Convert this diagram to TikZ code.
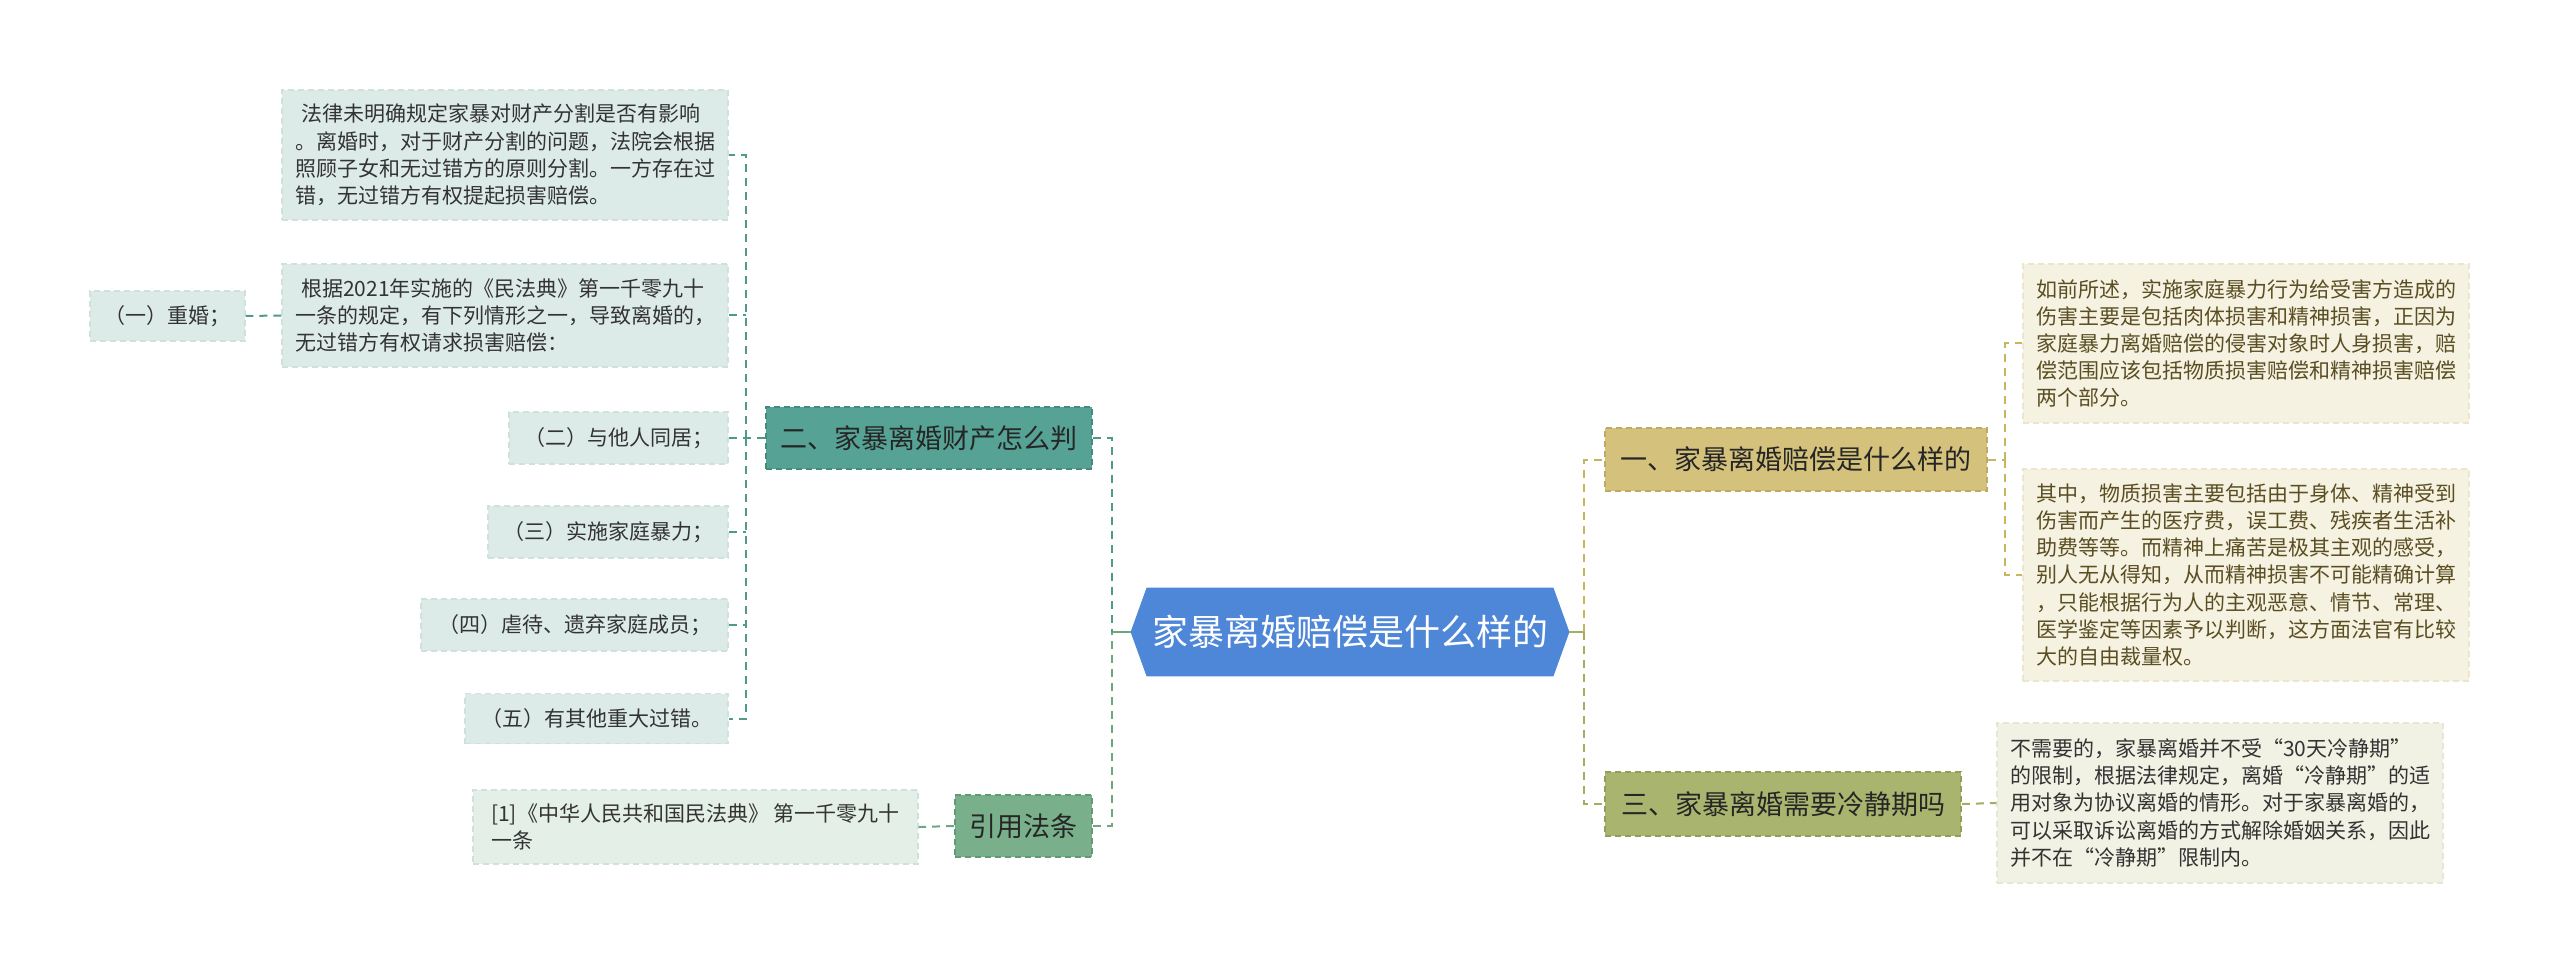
\documentclass[tikz,border=0pt]{standalone}
\usepackage{fontspec}
\setmainfont{Noto Sans CJK SC}
\usetikzlibrary{calc,backgrounds}
\definecolor{cblue}{HTML}{4E86D8}
\definecolor{tealF}{HTML}{56A395}
\definecolor{tealB}{HTML}{438C7D}
\definecolor{greenF}{HTML}{79B08B}
\definecolor{greenB}{HTML}{629A75}
\definecolor{leafF}{HTML}{DDEBE8}
\definecolor{leafB}{HTML}{CFE1DD}
\definecolor{citeF}{HTML}{E3EFE7}
\definecolor{goldF}{HTML}{D4C17B}
\definecolor{goldB}{HTML}{BEAA62}
\definecolor{oliveF}{HTML}{A9B46E}
\definecolor{oliveB}{HTML}{939E5A}
\definecolor{creamF}{HTML}{F6F2E2}
\definecolor{creamB}{HTML}{ECE5CD}
\definecolor{creamtwoF}{HTML}{F1F1E4}
\definecolor{creamtwoB}{HTML}{E6E6D4}
\definecolor{lineT}{HTML}{4F9A8A}
\definecolor{lineG}{HTML}{6BA77F}
\definecolor{lineGold}{HTML}{C8B65E}
\definecolor{lineOl}{HTML}{A3AE60}
\definecolor{txtD}{HTML}{333333}
\definecolor{txtR}{HTML}{5A4E22}
\tikzset{
  boxbase/.style={inner sep=0pt, align=left, line width=0.7pt, dash pattern=on 3pt off 2pt},
  leafL/.style={boxbase, fill=leafF, draw=leafB, text=txtD, font=\fontsize{10.5}{13.7}\selectfont},
  citebox/.style={leafL, fill=citeF},
  leafR/.style={boxbase, fill=creamF, draw=creamB, text=txtR, font=\fontsize{10.5}{13.6}\selectfont},
  leafRR/.style={boxbase, fill=creamtwoF, draw=creamtwoB, text=txtD, font=\fontsize{10.5}{13.6}\selectfont},
  branch/.style={boxbase, line width=0.9pt, text=black!85, font=\fontsize{13.5}{16}\selectfont},
  connT/.style={draw=lineT, line width=1pt, dash pattern=on 4pt off 3pt},
  connG/.style={draw=lineG, line width=1pt, dash pattern=on 4pt off 3pt},
  connGold/.style={draw=lineGold, line width=1pt, dash pattern=on 4pt off 3pt},
  connOl/.style={draw=lineOl, line width=1pt, dash pattern=on 4pt off 3pt},
}
\begin{document}
\begin{tikzpicture}[x=0.5pt,y=-0.5pt]
\useasboundingbox (0,0) rectangle (2560,973);
% center
\node[inner sep=0pt, minimum width=219pt, minimum height=44pt, text=white, font=\fontsize{18}{20}\selectfont] (center) at (1350,632) {家暴离婚赔偿是什么样的};
\begin{scope}[on background layer]
\fill[cblue] (center.west) -- ([xshift=8pt]center.north west) -- ([xshift=-8pt]center.north east) -- (center.east) -- ([xshift=-8pt]center.south east) -- ([xshift=8pt]center.south west) -- cycle;
\end{scope}
% left branches
\node[branch, fill=tealF, draw=tealB, minimum width=163pt, minimum height=31pt] (b2) at (929,438) {二、家暴离婚财产怎么判};
\node[branch, fill=greenF, draw=greenB, minimum width=68.5pt, minimum height=31pt] (yin) at (1023.5,826) {引用法条};
% left leaves
\node[leafL, minimum width=223pt, minimum height=65pt] (leafA) at (505,155) {\hspace*{0.3em}法律未明确规定家暴对财产分割是否有影响\\。离婚时，对于财产分割的问题，法院会根据\\照顾子女和无过错方的原则分割。一方存在过\\错，无过错方有权提起损害赔偿。};
\node[leafL, minimum width=223pt, minimum height=51.5pt] (leafB) at (505,315.5) {\hspace*{0.3em}根据2021年实施的《民法典》第一千零九十\\一条的规定，有下列情形之一，导致离婚的，\\无过错方有权请求损害赔偿：};
\node[leafL, minimum width=77.5pt, minimum height=25pt] (l1) at (167.5,316) {（一）重婚；};
\node[leafL, minimum width=109.5pt, minimum height=26pt] (l2) at (618.5,438) {（二）与他人同居；};
\node[leafL, minimum width=120pt, minimum height=26pt] (l3) at (608,532) {（三）实施家庭暴力；};
\node[leafL, minimum width=153.5pt, minimum height=26pt] (l4) at (574.5,625) {（四）虐待、遗弃家庭成员；};
\node[leafL, minimum width=131.5pt, minimum height=25pt] (l5) at (596.5,718.5) {（五）有其他重大过错。};
\node[citebox, minimum width=222.5pt, minimum height=37pt] (cite) at (695.5,827) {[1]《中华人民共和国民法典》 第一千零九十\\一条};
% right branches
\node[branch, fill=goldF, draw=goldB, minimum width=191pt, minimum height=31.5pt] (b1) at (1796,459.5) {一、家暴离婚赔偿是什么样的};
\node[branch, fill=oliveF, draw=oliveB, minimum width=178pt, minimum height=32pt] (b3) at (1783,804) {三、家暴离婚需要冷静期吗};
% right leaves
\node[leafR, minimum width=223pt, minimum height=79.5pt] (r1) at (2246,343.5) {如前所述，实施家庭暴力行为给受害方造成的\\伤害主要是包括肉体损害和精神损害，正因为\\家庭暴力离婚赔偿的侵害对象时人身损害，赔\\偿范围应该包括物质损害赔偿和精神损害赔偿\\两个部分。};
\node[leafR, minimum width=223pt, minimum height=106pt] (r2) at (2246,575) {其中，物质损害主要包括由于身体、精神受到\\伤害而产生的医疗费，误工费、残疾者生活补\\助费等等。而精神上痛苦是极其主观的感受，\\别人无从得知，从而精神损害不可能精确计算\\，只能根据行为人的主观恶意、情节、常理、\\医学鉴定等因素予以判断，这方面法官有比较\\大的自由裁量权。};
\node[leafRR, minimum width=223pt, minimum height=80pt] (r3) at (2220,803) {不需要的，家暴离婚并不受“30天冷静期”\\的限制，根据法律规定，离婚“冷静期”的适\\用对象为协议离婚的情形。对于家暴离婚的，\\可以采取诉讼离婚的方式解除婚姻关系，因此\\并不在“冷静期”限制内。};
% trunk coordinates
\coordinate (tL) at (1112,632);
\coordinate (tB) at (746,438);
\coordinate (tR) at (1584,632);
\coordinate (tA) at (2005,459.5);
% connectors: center to left branches
\draw[draw=lineG, line width=1pt] (center.west) -- (tL);
\draw[connT] (b2.east) -- (tL |- b2.east) -- (tL);
\draw[connG] (yin.east) -- (tL |- yin.east) -- (tL);
% b2 children
\draw[connT] (b2.west) -- (tB);
\draw[connT] (tB) -- (tB |- leafA.east) -- (leafA.east);
\draw[connT] (tB) -- (tB |- l5.east) -- (l5.east);
\draw[connT] (leafB.east) -- (tB |- leafB.east);
\draw[connT] (l2.east) -- (tB |- l2.east);
\draw[connT] (l3.east) -- (tB |- l3.east);
\draw[connT] (l4.east) -- (tB |- l4.east);
\draw[connT] (leafB.west) -- (l1.east);
\draw[connG] (yin.west) -- (cite.east);
% right side
\draw[draw=lineOl, line width=1pt] (center.east) -- (tR);
\draw[connGold] (tR) -- (tR |- b1.west) -- (b1.west);
\draw[connOl] (tR) -- (tR |- b3.west) -- (b3.west);
\draw[connGold] (b1.east) -- (tA);
\draw[connGold] (tA) -- (tA |- r1.west) -- (r1.west);
\draw[connGold] (tA) -- (tA |- r2.west) -- (r2.west);
\draw[connOl] (b3.east) -- (r3.west);
\end{tikzpicture}
\end{document}
